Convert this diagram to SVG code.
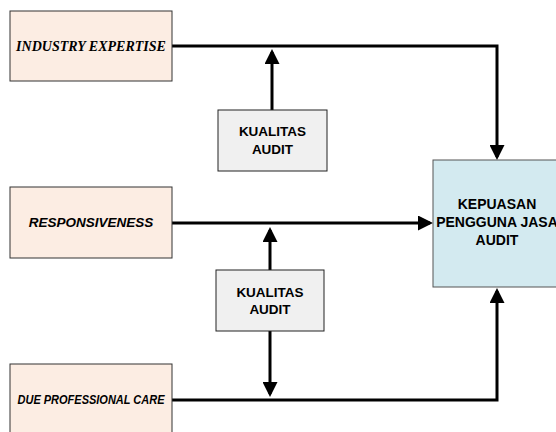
<svg xmlns="http://www.w3.org/2000/svg" width="556" height="432" viewBox="0 0 556 432">
<style>
.src{fill:#FCEDE3;stroke:#333;stroke-width:1}
.med{fill:#F0F0F0;stroke:#222;stroke-width:1}
.dst{fill:#D3EAF0;stroke:#555;stroke-width:1}
.t{font-family:"Liberation Sans",Arial,sans-serif;font-weight:700;font-size:13.5px;fill:#000;text-anchor:middle}
.ti{font-style:italic}
.serif{font-family:"Liberation Serif","Times New Roman",serif;font-size:14px}
.big{font-size:14px}
.c{fill:none;stroke:#000;stroke-width:3}
</style>
<defs>
<marker id="ah" viewBox="0 0 15 15" refX="12" refY="7.5" markerWidth="15" markerHeight="15" markerUnits="userSpaceOnUse" orient="auto">
<path d="M0,0 L15,7.5 L0,15 z" fill="#000"/>
</marker>
</defs>
<g id="connectors">
<polyline class="c" points="172,46 497,46 497,157" marker-end="url(#ah)"/>
<line class="c" x1="272" y1="110" x2="272" y2="52" marker-end="url(#ah)"/>
<line class="c" x1="172" y1="223" x2="430" y2="223" marker-end="url(#ah)"/>
<line class="c" x1="270" y1="270" x2="270" y2="230" marker-end="url(#ah)"/>
<line class="c" x1="270" y1="331" x2="270" y2="394" marker-end="url(#ah)"/>
<polyline class="c" points="172,400 497,400 497,291" marker-end="url(#ah)"/>
</g>
<g id="industry-expertise">
<rect class="src" x="10" y="11" width="162" height="70"/>
<text class="t ti serif" x="91" y="51">INDUSTRY EXPERTISE</text>
</g>
<g id="kualitas-audit-1">
<rect class="med" x="218" y="110" width="109" height="61"/>
<text class="t" x="272.5" y="136">KUALITAS</text>
<text class="t" x="272.5" y="154">AUDIT</text>
</g>
<g id="responsiveness">
<rect class="src" x="10" y="187" width="162" height="71"/>
<text class="t ti" x="91" y="227">RESPONSIVENESS</text>
</g>
<g id="kualitas-audit-2">
<rect class="med" x="216" y="270" width="108" height="61"/>
<text class="t" x="270" y="297">KUALITAS</text>
<text class="t" x="270" y="314">AUDIT</text>
</g>
<g id="due-professional-care">
<rect class="src" x="10" y="364" width="162" height="80"/>
<text class="t ti" x="91" y="404" font-size="12.5" textLength="147" lengthAdjust="spacingAndGlyphs">DUE PROFESSIONAL CARE</text>
</g>
<g id="kepuasan">
<rect class="dst" x="433" y="160" width="128" height="127"/>
<text class="t big" x="497" y="209">KEPUASAN</text>
<text class="t big" x="497" y="227">PENGGUNA JASA</text>
<text class="t big" x="497" y="245">AUDIT</text>
</g>
</svg>
